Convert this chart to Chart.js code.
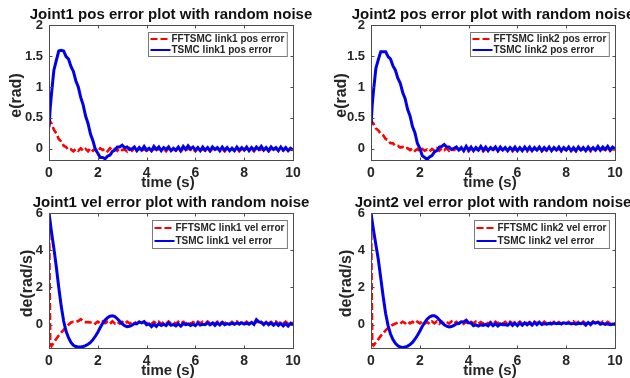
<!DOCTYPE html>
<html lang="en">

<head>
  <title>Joint error plots with random noise</title>
  <script src="https://cdn.jsdelivr.net/npm/chart.js"></script>
  <style>
    body { margin: 0; background: #fff; width: 630px; height: 378px; overflow: hidden; }
    canvas { position: absolute; }
  </style>
</head>

<body>
  <canvas id="pos1" width="315" height="200" style="left:0;top:0"></canvas>
  <canvas id="pos2" width="315" height="200" style="left:315px;top:0"></canvas>
  <canvas id="vel1" width="315" height="189" style="left:0;top:189px"></canvas>
  <canvas id="vel2" width="315" height="189" style="left:315px;top:189px"></canvas>
  <script>
    // time samples (s), shared by every series
    var time = [0, 0.05, 0.1, 0.2, 0.3, 0.4, 0.5, 0.6, 0.7, 0.8, 0.9, 1.0, 1.1, 1.2, 1.3, 1.4, 1.5, 1.6, 1.7, 1.8, 1.9,
      2.0, 2.1, 2.2, 2.3, 2.4, 2.5, 2.6, 2.7, 2.8, 2.9, 3.0, 3.1, 3.2, 3.3, 3.4, 3.5, 3.6, 3.7, 3.8, 3.9,
      4.0, 4.1, 4.2, 4.3, 4.4, 4.5, 4.6, 4.7, 4.8, 4.9, 5.0, 5.1, 5.2, 5.3, 5.4, 5.5, 5.6, 5.7, 5.8, 5.9,
      6.0, 6.1, 6.2, 6.3, 6.4, 6.5, 6.6, 6.7, 6.8, 6.9, 7.0, 7.1, 7.2, 7.3, 7.4, 7.5, 7.6, 7.7, 7.8, 7.9,
      8.0, 8.1, 8.2, 8.3, 8.4, 8.5, 8.6, 8.7, 8.8, 8.9, 9.0, 9.1, 9.2, 9.3, 9.4, 9.5, 9.6, 9.7, 9.8, 9.9, 10.0];

    var xTicks = [0, 2, 4, 6, 8, 10];
    var posTicks = [0, 0.5, 1, 1.5, 2];
    var velTicks = [0, 2, 4, 6];

    var fftsmcPos1 = [0.5, 0.44, 0.41, 0.31, 0.25, 0.16, 0.12, 0.05, 0.03, -0.02, -0.01, -0.04, 0.0, -0.03, 0.01, -0.03,
      0.0, -0.04, 0.01, -0.03, 0.0, -0.04, 0.01, -0.02, 0.0, -0.04, 0.01, -0.03, 0.0, -0.03, 0.01, -0.02, -0.01, -0.04, 0.01, -0.03,
      0.01, -0.03, 0.01, -0.04, 0.0, -0.03, 0.01, -0.03, 0.0, -0.04,
      0.01, -0.02, 0.0, -0.04, 0.01, -0.03, 0.0, -0.03, 0.01, -0.04,
      0.0, -0.03, 0.01, -0.02, 0.0, -0.04, 0.01, -0.03, 0.0, -0.03,
      0.01, -0.04, 0.0, -0.02, 0.01, -0.03, 0.0, -0.04, 0.01, -0.02,
      0.0, -0.03, 0.01, -0.04, 0.0, -0.03, 0.01, -0.02, 0.0, -0.04,
      0.01, -0.03, 0.0, -0.02, 0.01, -0.04, 0.0, -0.03, 0.01, -0.02,
      0.0, -0.03, 0.01, -0.04, 0.0, -0.02];
    var tsmcPos1 = [0.35, 0.66, 0.88, 1.27, 1.43, 1.58, 1.59, 1.58, 1.49, 1.45, 1.33, 1.25, 1.10, 1.00, 0.83, 0.71,
      0.53, 0.41, 0.24, 0.13, -0.01, -0.07, -0.14, -0.14, -0.16, -0.12, -0.10, -0.04, -0.02, 0.03, 0.03, 0.06, 0.02, 0.03, -0.01, 0.0,
      0.03, -0.03, 0.02, -0.02, 0.04, -0.02, 0.01, -0.03, 0.04, -0.01,
      0.03, -0.03, 0.02, -0.01, 0.03, -0.03, 0.01, -0.02, 0.03, -0.03,
      0.04, -0.01, 0.05, 0.0, 0.03, -0.02, 0.02, -0.03, 0.03, -0.02,
      0.02, -0.03, 0.03, -0.01, 0.02, -0.03, 0.03, -0.02, 0.02, -0.03,
      0.01, -0.03, 0.03, -0.02, 0.02, -0.02, 0.03, -0.03, 0.02, -0.02,
      0.03, -0.01, 0.04, -0.02, 0.02, -0.03, 0.03, -0.01, 0.02, -0.03,
      0.03, -0.02, 0.02, -0.03, 0.01, -0.02];

    var fftsmcPos2 = [0.48, 0.43, 0.41, 0.33, 0.30, 0.24, 0.22, 0.16, 0.14, 0.09, 0.09, 0.05, 0.05, 0.02, 0.03, 0.0,
      0.01, -0.02, 0.01, -0.03, 0.0, -0.04, 0.0, -0.03, -0.01, -0.04, 0.0, -0.03, 0.01, -0.03, 0.01, -0.02, 0.01, -0.03, 0.0, -0.02,
      0.01, -0.03, 0.01, -0.02, -0.01, -0.04, 0.01, -0.03, 0.0, -0.02,
      0.01, -0.04, 0.0, -0.03, 0.01, -0.02, 0.0, -0.04, 0.01, -0.03,
      0.0, -0.02, 0.01, -0.04, 0.0, -0.03, 0.01, -0.02, 0.0, -0.04,
      0.01, -0.03, 0.0, -0.02, 0.01, -0.04, 0.0, -0.03, 0.01, -0.02,
      0.0, -0.03, 0.01, -0.04, 0.0, -0.02, 0.01, -0.03, 0.0, -0.04,
      0.01, -0.02, 0.0, -0.03, 0.01, -0.04, 0.0, -0.02, 0.01, -0.03,
      0.0, -0.02, 0.01, -0.03, 0.0, -0.02];
    var tsmcPos2 = [0.38, 0.71, 0.93, 1.30, 1.44, 1.57, 1.57, 1.57, 1.49, 1.45, 1.34, 1.27, 1.14, 1.06, 0.91, 0.81,
      0.64, 0.53, 0.36, 0.26, 0.09, 0.01, -0.11, -0.14, -0.17, -0.13, -0.11, -0.05, -0.03, 0.03, 0.04, 0.07, 0.03, 0.03, -0.01, 0.01,
      0.03, -0.02, 0.02, -0.03, 0.04, -0.02, 0.03, -0.03, 0.02, -0.02,
      0.04, -0.02, 0.03, -0.03, 0.02, -0.01, 0.03, -0.03, 0.03, -0.02,
      0.02, -0.03, 0.02, -0.02, 0.03, -0.03, 0.02, -0.03, 0.03, -0.02,
      0.03, -0.03, 0.02, -0.02, 0.03, -0.03, 0.02, -0.02, 0.03, -0.03,
      0.02, -0.02, 0.03, -0.03, 0.02, -0.02, 0.03, -0.03, 0.02, -0.03,
      0.03, -0.02, 0.02, -0.03, 0.03, -0.02, 0.02, -0.02, 0.04, -0.02,
      0.03, -0.01, 0.04, -0.02, 0.03, 0.0];

    var fftsmcVel1 = [6.0, -1.05, -1.15, -0.95, -0.75, -0.58, -0.42, -0.28, -0.12, 0.0, 0.12, 0.16, 0.15, 0.2, 0.3, 0.18,
      0.14, 0.14, 0.12, 0.16, 0.06, 0.17, 0.07, 0.18, 0.08, 0.16, 0.05, 0.18, 0.07, 0.16, 0.06, 0.15, 0.05, 0.16, 0.07, 0.12,
      0.16, 0.05, 0.15, 0.06, 0.17, 0.07, 0.14, 0.04, 0.15, 0.06,
      0.16, 0.03, 0.15, 0.05, 0.17, 0.06, 0.14, 0.04, 0.16, 0.05,
      0.15, 0.06, 0.17, 0.04, 0.14, 0.05, 0.16, 0.07, 0.15, 0.04,
      0.17, 0.06, 0.15, 0.04, 0.16, 0.05, 0.14, 0.07, 0.16, 0.05,
      0.15, 0.06, 0.17, 0.04, 0.15, 0.06, 0.16, 0.05, 0.14, 0.06,
      0.17, 0.05, 0.15, 0.04, 0.16, 0.06, 0.15, 0.05, 0.17, 0.04,
      0.15, 0.06, 0.16, 0.05, 0.14, 0.06];
    var tsmcVel1 = [6.0, 5.5, 5.0, 4.1, 3.1, 2.0, 1.0, 0.2, -0.35, -0.7, -0.95, -1.1, -1.17, -1.2, -1.2, -1.17,
      -1.12, -1.05, -0.95, -0.8, -0.62, -0.4, -0.15, 0.08, 0.25, 0.38, 0.46, 0.48, 0.44, 0.32, 0.18, 0.05, -0.05, -0.1, -0.08, -0.03,
      0.06, 0.05, 0.15, 0.1, 0.17, 0.0, 0.04, -0.1, 0.02, -0.09,
      0.05, -0.04, 0.03, -0.05, 0.1, -0.03, 0.02, -0.06, 0.05, -0.08,
      0.06, 0.0, 0.04, -0.04, 0.03, -0.05, 0.09, -0.02, 0.02, 0.0,
      0.1, -0.01, 0.09, -0.04, 0.1, -0.01, 0.12, 0.0, 0.06, 0.02,
      0.08, 0.02, 0.1, 0.04, 0.11, 0.03, 0.09, 0.03, 0.13, 0.02,
      0.27, 0.15, 0.12, 0.0, 0.13, 0.0, 0.1, -0.03, 0.09, -0.04,
      0.07, -0.06, 0.06, -0.07, 0.08, -0.02];

    var fftsmcVel2 = [6.0, -1.05, -1.12, -0.95, -0.78, -0.6, -0.45, -0.3, -0.18, -0.08, 0.0, 0.06, 0.12, 0.06, 0.16, 0.08,
      0.18, 0.07, 0.16, 0.06, 0.17, 0.07, 0.18, 0.06, 0.15, 0.04, 0.17, 0.07, 0.18, 0.05, 0.16, 0.04, 0.15, 0.06, 0.17, 0.05,
      0.15, 0.06, 0.14, 0.05, 0.16, 0.04, 0.15, 0.07, 0.16, 0.05,
      0.14, 0.06, 0.17, 0.05, 0.15, 0.03, 0.16, 0.06, 0.17, 0.05,
      0.15, 0.04, 0.16, 0.06, 0.14, 0.07, 0.16, 0.05, 0.15, 0.06,
      0.14, 0.05, 0.16, 0.07, 0.15, 0.04, 0.16, 0.06, 0.17, 0.05,
      0.15, 0.06, 0.14, 0.05, 0.16, 0.07, 0.15, 0.04, 0.17, 0.06,
      0.15, 0.05, 0.16, 0.06, 0.14, 0.05, 0.17, 0.06, 0.15, 0.07,
      0.16, 0.05, 0.15, 0.06, 0.14, 0.05];
    var tsmcVel2 = [6.0, 5.55, 5.1, 4.3, 3.5, 2.5, 1.5, 0.6, -0.05, -0.5, -0.8, -1.0, -1.13, -1.2, -1.22, -1.2,
      -1.15, -1.07, -0.95, -0.78, -0.58, -0.35, -0.1, 0.12, 0.3, 0.42, 0.48, 0.48, 0.4, 0.27, 0.12, 0.0, -0.08, -0.12, -0.1, -0.04,
      0.05, 0.06, 0.16, 0.15, 0.24, 0.1, 0.09, -0.06, -0.01, -0.07,
      0.0, -0.04, 0.02, -0.06, 0.08, -0.05, 0.06, -0.07, 0.04, 0.0,
      0.01, -0.03, 0.09, -0.04, 0.08, -0.05, 0.09, -0.03, 0.1, -0.01,
      0.1, -0.02, 0.12, 0.0, 0.13, 0.01, 0.06, 0.03, 0.07, 0.04,
      0.09, 0.06, 0.08, 0.04, 0.1, 0.07, 0.09, 0.05, 0.07, 0.03,
      0.08, 0.06, 0.1, -0.02, 0.12, 0.0, 0.13, 0.09, 0.14, 0.02,
      0.07, 0.02, 0.05, 0.0, 0.03, -0.01];

    var FONT = "'Liberation Sans', Arial, sans-serif";
    var RED = 'rgb(255,0,0)';
    var BLUE = 'rgb(0,0,235)';
    var INK = '#262626';

    function xy(vals) {
      return vals.map(function (v, i) { return { x: time[i], y: v }; });
    }

    // draws the matlab style box, inner ticks, legend box and the texts
    var matlabFrame = {
      id: 'matlabFrame',
      afterDraw: function (chart, args, o) {
        var ctx = chart.ctx, a = chart.chartArea;
        var xs = chart.scales.x, ys = chart.scales.y;
        ctx.save();
        ctx.strokeStyle = '#4d4d4d';
        ctx.lineWidth = 1;
        var L = Math.round(a.left) + 0.5, T = Math.round(a.top) + 0.5;
        var R = Math.round(a.right) + 0.5, B = Math.round(a.bottom) + 0.5;
        ctx.strokeRect(L, T, R - L, B - T);
        ctx.beginPath();
        xs.ticks.forEach(function (t) {
          var px = Math.round(xs.getPixelForValue(t.value)) + 0.5;
          ctx.moveTo(px, B); ctx.lineTo(px, B - 3);
          ctx.moveTo(px, T); ctx.lineTo(px, T + 3);
        });
        ys.ticks.forEach(function (t) {
          var py = Math.round(ys.getPixelForValue(t.value)) + 0.5;
          ctx.moveTo(L, py); ctx.lineTo(L + 3, py);
          ctx.moveTo(R, py); ctx.lineTo(R - 3, py);
        });
        ctx.stroke();

        // legend
        ctx.font = 'bold 10px ' + FONT;
        var sets = chart.data.datasets;
        var tw = Math.max.apply(null, sets.map(function (d) { return ctx.measureText(d.label).width; }));
        var bw = 2 + 20 + 1 + tw + 3, bh = o.rowGap * 2 + 2;
        var bx = Math.round(a.right - 6 - bw) + 0.5, by = Math.round(a.top + 7) + 0.5;
        ctx.fillStyle = '#fff';
        ctx.fillRect(bx, by, bw, bh);
        ctx.strokeStyle = '#7a7a7a';
        ctx.strokeRect(bx, by, bw, bh);
        ctx.textBaseline = 'middle';
        ctx.textAlign = 'left';
        sets.forEach(function (d, i) {
          var ry = by + 1 + o.rowGap / 2 + i * o.rowGap;
          ctx.strokeStyle = d.borderColor;
          ctx.lineWidth = 2;
          ctx.setLineDash(d.borderDash || []);
          ctx.beginPath();
          ctx.moveTo(bx + 2, ry); ctx.lineTo(bx + 22, ry);
          ctx.stroke();
          ctx.setLineDash([]);
          ctx.fillStyle = INK;
          ctx.fillText(d.label, bx + 23, ry + 0.5);
        });

        // title and axis labels
        var cx = (a.left + a.right) / 2;
        ctx.fillStyle = '#111';
        ctx.textAlign = 'center';
        ctx.textBaseline = 'alphabetic';
        ctx.font = 'bold 15px ' + FONT;
        ctx.fillText(o.title, cx, a.top - 6.5);
        ctx.fillStyle = INK;
        ctx.font = 'bold 15px ' + FONT;
        ctx.fillText('time (s)', cx - 3, a.bottom + 26.5);
        ctx.font = 'bold 16px ' + FONT;
        ctx.translate(a.left + o.yLabelOffset, (a.top + a.bottom) / 2 + 3);
        ctx.rotate(-Math.PI / 2);
        ctx.textBaseline = 'middle';
        ctx.fillText(o.yLabel, 0, 0);
        ctx.restore();
      }
    };

    function makeChart(id, cfg) {
      var ctx = document.getElementById(id);
      new Chart(ctx, {
        type: 'line',
        data: {
          datasets: [{
            label: cfg.redLabel,
            data: xy(cfg.red),
            borderColor: RED,
            borderWidth: 2.6,
            borderDash: [7, 3],
            pointRadius: 0,
            order: 1
          }, {
            label: cfg.blueLabel,
            data: xy(cfg.blue),
            borderColor: BLUE,
            borderWidth: 3,
            pointRadius: 0,
            order: 0
          }]
        },
        options: {
          responsive: false,
          animation: false,
          devicePixelRatio: 1,
          layout: { padding: { left: 0, top: cfg.top, right: cfg.right, bottom: 0 } },
          plugins: {
            legend: { display: false },
            title: { display: false },
            tooltip: { enabled: false },
            matlabFrame: { title: cfg.title, yLabel: cfg.yLabel, yLabelOffset: cfg.yLabelOffset, rowGap: cfg.rowGap }
          },
          scales: {
            x: {
              type: 'linear',
              min: 0,
              max: 10,
              afterFit: function (s) { s.height = cfg.bottom; },
              afterBuildTicks: function (s) { s.ticks = xTicks.map(function (v) { return { value: v }; }); },
              grid: { display: false, drawTicks: false },
              border: { display: false },
              ticks: { padding: 5, color: INK, font: { family: FONT, size: 14, weight: 'bold' }, maxRotation: 0, callback: function (v) { return String(v); } }
            },
            y: {
              min: cfg.yMin,
              max: cfg.yMax,
              afterFit: function (s) { s.width = cfg.left; },
              afterBuildTicks: function (s) { s.ticks = cfg.yTicks.map(function (v) { return { value: v }; }); },
              grid: { display: false, drawTicks: false },
              border: { display: false },
              ticks: { padding: 6, color: INK, font: { family: FONT, size: 13, weight: 'bold' }, callback: function (v) { return String(v); } }
            }
          }
        },
        plugins: [matlabFrame]
      });
    }

    makeChart('pos1', {
      title: 'Joint1 pos error plot with random noise', yLabel: 'e(rad)', yLabelOffset: -32,
      redLabel: 'FFTSMC link1 pos error', blueLabel: 'TSMC link1 pos error',
      red: fftsmcPos1, blue: tsmcPos1, yMin: -0.18, yMax: 2, yTicks: posTicks,
      left: 49, right: 22, top: 25, bottom: 40, rowGap: 11
    });
    makeChart('pos2', {
      title: 'Joint2 pos error plot with random noise', yLabel: 'e(rad)', yLabelOffset: -29,
      redLabel: 'FFTSMC link2 pos error', blueLabel: 'TSMC link2 pos error',
      red: fftsmcPos2, blue: tsmcPos2, yMin: -0.18, yMax: 2, yTicks: posTicks,
      left: 56, right: 15, top: 25, bottom: 40, rowGap: 11
    });
    makeChart('vel1', {
      title: 'Joint1 vel error plot with random noise', yLabel: 'de(rad/s)', yLabelOffset: -21,
      redLabel: 'FFTSMC link1 vel error', blueLabel: 'TSMC link1 vel error',
      red: fftsmcVel1, blue: tsmcVel1, yMin: -1.25, yMax: 6, yTicks: velTicks,
      left: 49, right: 22, top: 24, bottom: 30, rowGap: 13
    });
    makeChart('vel2', {
      title: 'Joint2 vel error plot with random noise', yLabel: 'de(rad/s)', yLabelOffset: -24,
      redLabel: 'FFTSMC link2 vel error', blueLabel: 'TSMC link2 vel error',
      red: fftsmcVel2, blue: tsmcVel2, yMin: -1.25, yMax: 6, yTicks: velTicks,
      left: 56, right: 15, top: 24, bottom: 30, rowGap: 13
    });
  </script>
</body>

</html>
